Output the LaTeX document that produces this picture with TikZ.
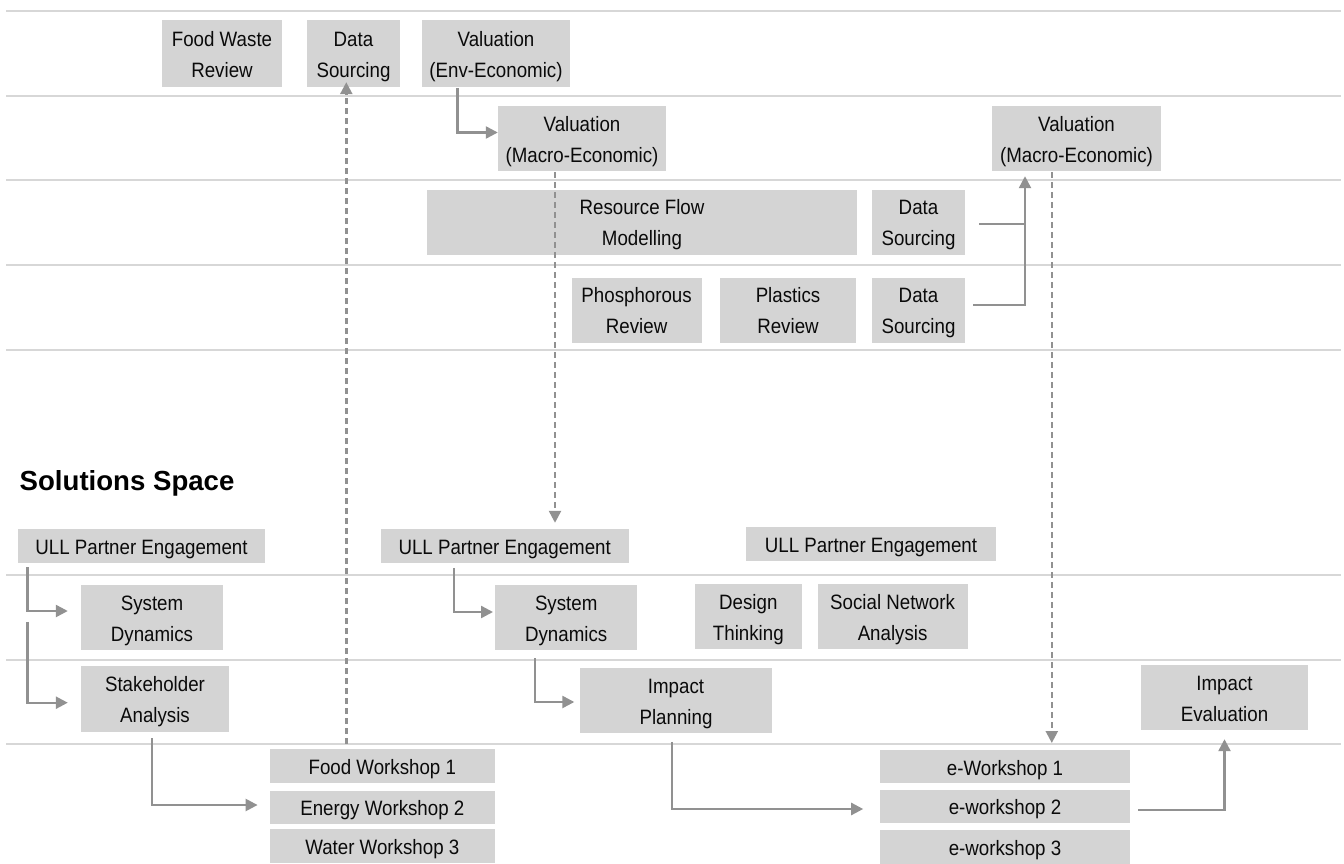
\documentclass[tikz,border=0pt]{standalone}
\usepackage{fontspec}
\setmainfont{Liberation Sans}[FakeStretch=0.9]
\newfontfamily\titlefont{Liberation Sans}
\usetikzlibrary{arrows.meta,calc}
\definecolor{boxgray}{RGB}{212,212,212}
\definecolor{arrgray}{RGB}{145,145,145}
\definecolor{rulegray}{RGB}{215,215,215}
\definecolor{txt}{RGB}{10,10,10}
\newcommand\fl{\rule{0pt}{21pt}}
\begin{document}
\begin{tikzpicture}[x=1pt,y=-1pt,
  box/.style={fill=boxgray, inner sep=0pt, align=center, text=txt, font=\fontsize{20.8}{31}\selectfont,
    execute at begin node={\rule{0pt}{21pt}}, execute at end node={\vphantom{(Ag)}}},
  conn/.style={draw=arrgray, line width=2.4pt},
  arr/.style={conn, -{Triangle[length=12pt,width=12pt]}},
  darr/.style={arr, dash pattern=on 6pt off 4pt},
  hrule/.style={draw=rulegray, line width=2pt}]
\fill[white] (0,0) rectangle (1344,864);
\useasboundingbox (0,0) rectangle (1344,864);
% rules
\foreach \yy in {11,95.7,180.3,265.3,350,575,660,744.3}
  \draw[hrule] (6,\yy) -- (1341,\yy);
% top section nodes
\node[box,minimum width=120pt,minimum height=67pt] (fwr) at (222,53.5) {\fl Food Waste\\Review};
\node[box,minimum width=93pt,minimum height=67pt] (ds1) at (353.5,53.5) {\fl Data\\Sourcing};
\node[box,minimum width=148pt,minimum height=67pt] (vee) at (496,53.5) {\fl Valuation\\(Env-Economic)};
\node[box,minimum width=168pt,minimum height=65pt] (vme1) at (582,138.5) {\fl Valuation\\(Macro-Economic)};
\node[box,minimum width=169pt,minimum height=65pt] (vme2) at (1076.5,138.5) {\fl Valuation\\(Macro-Economic)};
\node[box,minimum width=430pt,minimum height=65pt] (rfm) at (642,222) {\fl Resource Flow\\Modelling};
\node[box,minimum width=93pt,minimum height=65pt] (ds2) at (918.5,222) {\fl Data\\Sourcing};
\node[box,minimum width=130pt,minimum height=65pt] (phr) at (636.6,310) {\fl Phosphorous\\Review};
\node[box,minimum width=136pt,minimum height=65pt] (plr) at (788,310) {\fl Plastics\\Review};
\node[box,minimum width=93pt,minimum height=65pt] (ds3) at (918.5,310) {\fl Data\\Sourcing};
% solutions space
\node[anchor=west, inner sep=0pt, text=black, font=\titlefont\fontsize{27.6}{30}\selectfont\bfseries] (title) at (19.5,483) {Solutions Space};
\node[box,minimum width=247pt,minimum height=34pt] (ull1) at (141.5,546) {ULL Partner Engagement};
\node[box,minimum width=248pt,minimum height=34pt] (ull2) at (504.7,546) {ULL Partner Engagement};
\node[box,minimum width=250pt,minimum height=34pt] (ull3) at (871,543.7) {ULL Partner Engagement};
\node[box,minimum width=142pt,minimum height=65pt] (sd1) at (152,617.5) {\fl System\\Dynamics};
\node[box,minimum width=148pt,minimum height=66pt] (sa) at (155,699) {\fl Stakeholder\\Analysis};
\node[box,minimum width=142pt,minimum height=65pt] (sd2) at (566.2,617.5) {\fl System\\Dynamics};
\node[box,minimum width=107pt,minimum height=65pt] (dt) at (748.3,616.5) {\fl Design\\Thinking};
\node[box,minimum width=150pt,minimum height=65pt] (sna) at (892.6,616.5) {\fl Social Network\\Analysis};
\node[box,minimum width=192pt,minimum height=65pt] (ip) at (676,700.5) {\fl Impact\\Planning};
\node[box,minimum width=167pt,minimum height=65pt] (ie) at (1224.5,697.5) {\fl Impact\\Evaluation};
\node[box,minimum width=225pt,minimum height=34pt] (fw1) at (382.3,766) {Food Workshop 1};
\node[box,minimum width=225pt,minimum height=33pt] (eg2) at (382.3,807.3) {Energy Workshop 2};
\node[box,minimum width=225pt,minimum height=34pt] (ww3) at (382.3,846) {Water Workshop 3};
\node[box,minimum width=250pt,minimum height=33pt] (ew1) at (1005,766.7) {e-Workshop 1};
\node[box,minimum width=250pt,minimum height=33pt] (ew2) at (1005,806.5) {e-workshop 2};
\node[box,minimum width=250pt,minimum height=34pt] (ew3) at (1005,847) {e-workshop 3};
% connectors
\draw[darr] ([xshift=-36pt,yshift=5pt]fw1.north) -- ([xshift=-36pt,yshift=5pt]fw1.north |- ds1.south);
\draw[arr] ([xshift=-38.5pt,yshift=-1pt]vee.south) |- ([yshift=6pt]vme1.west);
\draw[darr,shorten >=6pt] ([xshift=-27pt,yshift=-1pt]vme1.south) -- ([xshift=-27pt]vme1.south |- ull2.north);
\coordinate (j) at ([xshift=-51.5pt]vme2.south);
\draw[conn] ([xshift=14pt,yshift=-2pt]ds2.east) -- ([yshift=-2pt]ds2.east -| j);
\draw[arr,shorten >=5pt] ([xshift=8pt,yshift=5pt]ds3.east) -| (j);
\draw[darr,shorten >=7pt] ([xshift=-24.7pt,yshift=-1pt]vme2.south) -- ([xshift=-24.7pt]vme2.south |- ew1.north);
\draw[arr,shorten >=13pt] ([xshift=9.7pt,yshift=-4pt]ull1.south west) |- ([yshift=6.5pt]sd1.west);
\draw[arr,shorten >=13pt] ([xshift=9.7pt,yshift=-58.7pt]ull1.south west) |- ([yshift=-3.7pt]sa.west);
\draw[arr,shorten >=12pt] ([xshift=-3.2pt,yshift=-6pt]sa.south) |- ([yshift=2.3pt]eg2.west);
\draw[arr,shorten >=2pt] ([xshift=73.7pt,yshift=-4.7pt]ull2.south west) |- ([yshift=5.5pt]sd2.west);
\draw[arr,shorten >=5.5pt] ([xshift=-31.4pt,yshift=-8pt]sd2.south) |- ([yshift=-1.5pt]ip.west);
\draw[arr,shorten >=16.6pt] ([xshift=-4pt,yshift=-8.7pt]ip.south) |- ([yshift=-2.5pt]ew2.west);
\draw[arr,shorten >=9pt] ([xshift=8pt,yshift=-3.5pt]ew2.east) -| (ie.south);
\end{tikzpicture}
\end{document}
